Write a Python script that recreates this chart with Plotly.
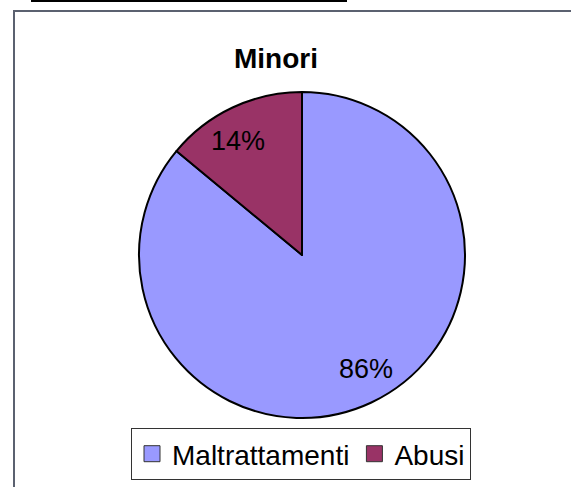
import math
import plotly.graph_objects as go

W, H = 571, 487

labels = ["Maltrattamenti", "Abusi"]
values = [86, 14]
colors = ["#9999FF", "#993366"]

# pie placement in pixels
cx_px, cy_px, r_px = 302, 255, 163

fig = go.Figure(go.Pie(
    labels=labels,
    values=values,
    sort=False,
    direction="clockwise",
    rotation=0,
    marker=dict(colors=colors, line=dict(color="black", width=2)),
    textinfo="none",
    showlegend=False,
    domain=dict(x=[(cx_px - r_px) / W, (cx_px + r_px) / W],
                y=[(H - cy_px - r_px) / H, (H - cy_px + r_px) / H]),
))

# legend entries with bigger square swatches
for lab, col in zip(labels, colors):
    fig.add_trace(go.Scatter(
        x=[None], y=[None], mode="markers", name=lab,
        marker=dict(symbol="square", size=16, color=col,
                    line=dict(color="#333", width=1)),
    ))

# percent labels placed near each slice's bisector
total = sum(values)
start = 0
annotations = []
for v in values:
    mid = (start + v / 2) / total * 2 * math.pi - math.radians(4)
    start += v
    x = cx_px + 0.8 * r_px * math.sin(mid)
    y = cy_px - 0.8 * r_px * math.cos(mid)
    annotations.append(dict(
        x=x / W, y=1 - y / H, xref="paper", yref="paper",
        xanchor="center", yanchor="middle",
        text=f"{round(v / total * 100)}%", showarrow=False,
        font=dict(size=27, color="black"),
    ))

frame = "#5b6170"
fig.update_layout(
    width=W, height=H,
    margin=dict(l=0, r=0, t=0, b=0),
    paper_bgcolor="white",
    plot_bgcolor="white",
    font=dict(family="Liberation Sans, Arial", color="black"),
    xaxis=dict(visible=False),
    yaxis=dict(visible=False),
    title=dict(text="<b>Minori</b>", x=276 / W, xanchor="center",
               y=1 - 58 / H, yanchor="middle",
               font=dict(size=28, color="black")),
    legend=dict(orientation="h", x=301 / W, xanchor="center",
                y=1 - 454 / H, yanchor="middle",
                bordercolor="#333", borderwidth=1,
                font=dict(size=28, color="black"),
                itemwidth=30),
    annotations=annotations,
    shapes=[
        dict(type="line", xref="paper", yref="paper",
             x0=31 / W, x1=347 / W, y0=1 - 1 / H, y1=1 - 1 / H,
             line=dict(color="black", width=2)),
        dict(type="line", xref="paper", yref="paper",
             x0=13 / W, x1=1, y0=1 - 11 / H, y1=1 - 11 / H,
             line=dict(color=frame, width=2)),
        dict(type="line", xref="paper", yref="paper",
             x0=14 / W, x1=14 / W, y0=1 - 11 / H, y1=0,
             line=dict(color=frame, width=2)),
    ],
)

fig.write_html("out.html", config={"displayModeBar": False},
               post_script="document.body.style.margin='0';")
